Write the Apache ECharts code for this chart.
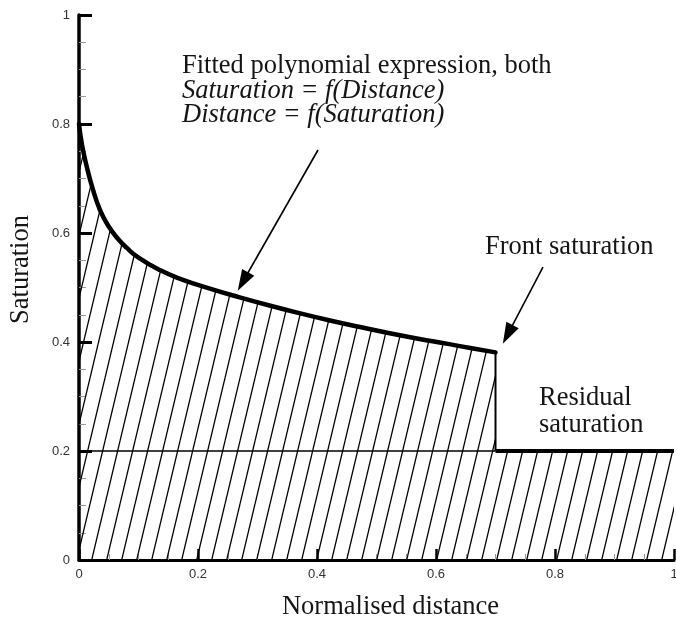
<!DOCTYPE html>
<html>
<head>
<meta charset="utf-8">
<script src="https://cdn.jsdelivr.net/npm/echarts@6/dist/echarts.min.js"></script>
<style>
html,body{margin:0;padding:0;background:#fff;}
#c{width:676px;height:621px;}
</style>
</head>
<body>
<div id="c"></div>
<script>
// ---- data ----
var curveX = [0, 0.005, 0.013, 0.022, 0.035, 0.05, 0.065, 0.08, 0.1, 0.136, 0.17, 0.22, 0.27, 0.32, 0.37, 0.42, 0.47, 0.52, 0.57, 0.62, 0.66, 0.70];
var curveY = [0.80, 0.762, 0.722, 0.685, 0.643, 0.612, 0.590, 0.573, 0.555, 0.532, 0.516, 0.498, 0.482, 0.467, 0.453, 0.440, 0.428, 0.4165, 0.406, 0.3965, 0.3885, 0.381];
var frontX = 0.70;
var frontTop = 0.381;
var residual = 0.20;
var xTicks = [0, 0.2, 0.4, 0.6, 0.8, 1];
var yTicks = [0, 0.2, 0.4, 0.6, 0.8, 1];
// arrow annotations (data coords): [start, arrow-head centre]
var arrowFitted = [[0.4017, 0.7523], [0.2756, 0.511]];
var arrowFront = [[0.7798, 0.5376], [0.7205, 0.414]];

var curve = curveX.map(function (x, i) { return [x, curveY[i]]; });
var fillData = curve.concat([[frontX, residual], [1, residual]]);

// hatch pattern
var pw = 15, ph = 63;
var pc = document.createElement('canvas');
pc.width = pw; pc.height = ph;
var g = pc.getContext('2d');
g.strokeStyle = '#000';
g.lineWidth = 1.3;
[-pw, 0, pw].forEach(function (o) {
  g.beginPath();
  g.moveTo(o, ph);
  g.lineTo(o + pw, 0);
  g.stroke();
});

var chart = echarts.init(document.getElementById('c'), null, {renderer: 'canvas'});
var serif = '"Liberation Serif", "Times New Roman", serif';
var txt = function (s, x, y, italic) {
  return {
    type: 'text', x: x, y: y, silent: true, z: 100,
    style: {
      text: s, fill: '#151515', font: (italic ? 'italic ' : '') + '26.5px ' + serif,
      verticalAlign: 'middle', align: 'left'
    }
  };
};

chart.setOption({
  animation: false,
  backgroundColor: '#fff',
  grid: {left: 79, right: 2, top: 15, bottom: 61, containLabel: false, outerBoundsMode: 'none'},
  xAxis: {
    type: 'value', min: 0, max: 1, interval: 0.2,
    name: 'Normalised distance', nameLocation: 'middle', nameGap: 34,
    nameTextStyle: {fontFamily: serif, fontSize: 26.5, color: '#151515', padding: [0, 0, 0, 28]},
    axisLine: {show: true, onZero: false, lineStyle: {color: '#000', width: 3}},
    axisTick: {show: true, inside: true, length: 11, lineStyle: {color: '#000', width: 2.5}},
    minorTick: {show: true, splitNumber: 4, length: 6, lineStyle: {color: '#999', width: 1}},
    axisLabel: {fontFamily: '"Liberation Sans", Arial, sans-serif', fontSize: 13, color: '#333', margin: 8,
      formatter: function (v) { return String(+v.toFixed(1)); }},
    splitLine: {show: false}
  },
  yAxis: {
    type: 'value', min: 0, max: 1, interval: 0.2,
    name: 'Saturation', nameLocation: 'middle', nameGap: 44, nameRotate: 90,
    nameTextStyle: {fontFamily: serif, fontSize: 26.5, color: '#151515', padding: [0, 0, 0, 36]},
    axisLine: {show: true, onZero: false, lineStyle: {color: '#000', width: 3.5}},
    axisTick: {show: true, inside: true, length: 13, lineStyle: {color: '#000', width: 3}},
    minorTick: {show: true, splitNumber: 4, length: 7, lineStyle: {color: '#999', width: 1}},
    axisLabel: {fontFamily: '"Liberation Sans", Arial, sans-serif', fontSize: 13, color: '#333', margin: 9,
      formatter: function (v) { return String(+v.toFixed(1)); }},
    splitLine: {show: false}
  },
  series: [
    {
      type: 'line', data: fillData, symbol: 'none', silent: true, z: 1, smooth: false,
      lineStyle: {width: 0, opacity: 0},
      areaStyle: {color: {image: pc, repeat: 'repeat'}, opacity: 1, origin: 'start'}
    },
    {
      type: 'line', data: [[0, residual], [frontX, residual]], symbol: 'none', silent: true, z: 3,
      lineStyle: {color: '#000', width: 1.6}
    },
    {
      type: 'line', data: [[frontX, residual], [1, residual]], symbol: 'none', silent: true, z: 4,
      lineStyle: {color: '#000', width: 4}
    },
    {
      type: 'line', data: [[frontX, frontTop], [frontX, residual]], symbol: 'none', silent: true, z: 4,
      lineStyle: {color: '#000', width: 2}
    },
    {
      type: 'line', data: curve, symbol: 'none', silent: true, z: 5, smooth: 0.5,
      lineStyle: {color: '#000', width: 4.5, cap: 'round', join: 'round'},
      markLine: {
        silent: true, animation: false, symbol: ['none', 'triangle'], symbolSize: [14, 21],
        label: {show: false},
        lineStyle: {color: '#000', width: 1.6, type: 'solid'},
        emphasis: {disabled: true},
        data: [
          [{coord: arrowFitted[0]}, {coord: arrowFitted[1]}],
          [{coord: arrowFront[0]}, {coord: arrowFront[1]}]
        ]
      }
    }
  ],
  graphic: [
    txt('Fitted polynomial expression, both', 182, 66, false),
    txt('Saturation = f(Distance)', 182, 91, true),
    txt('Distance = f(Saturation)', 182, 115, true),
    txt('Front saturation', 485, 247, false),
    txt('Residual', 539, 398, false),
    txt('saturation', 539, 425, false)
  ]
});
</script>
</body>
</html>
